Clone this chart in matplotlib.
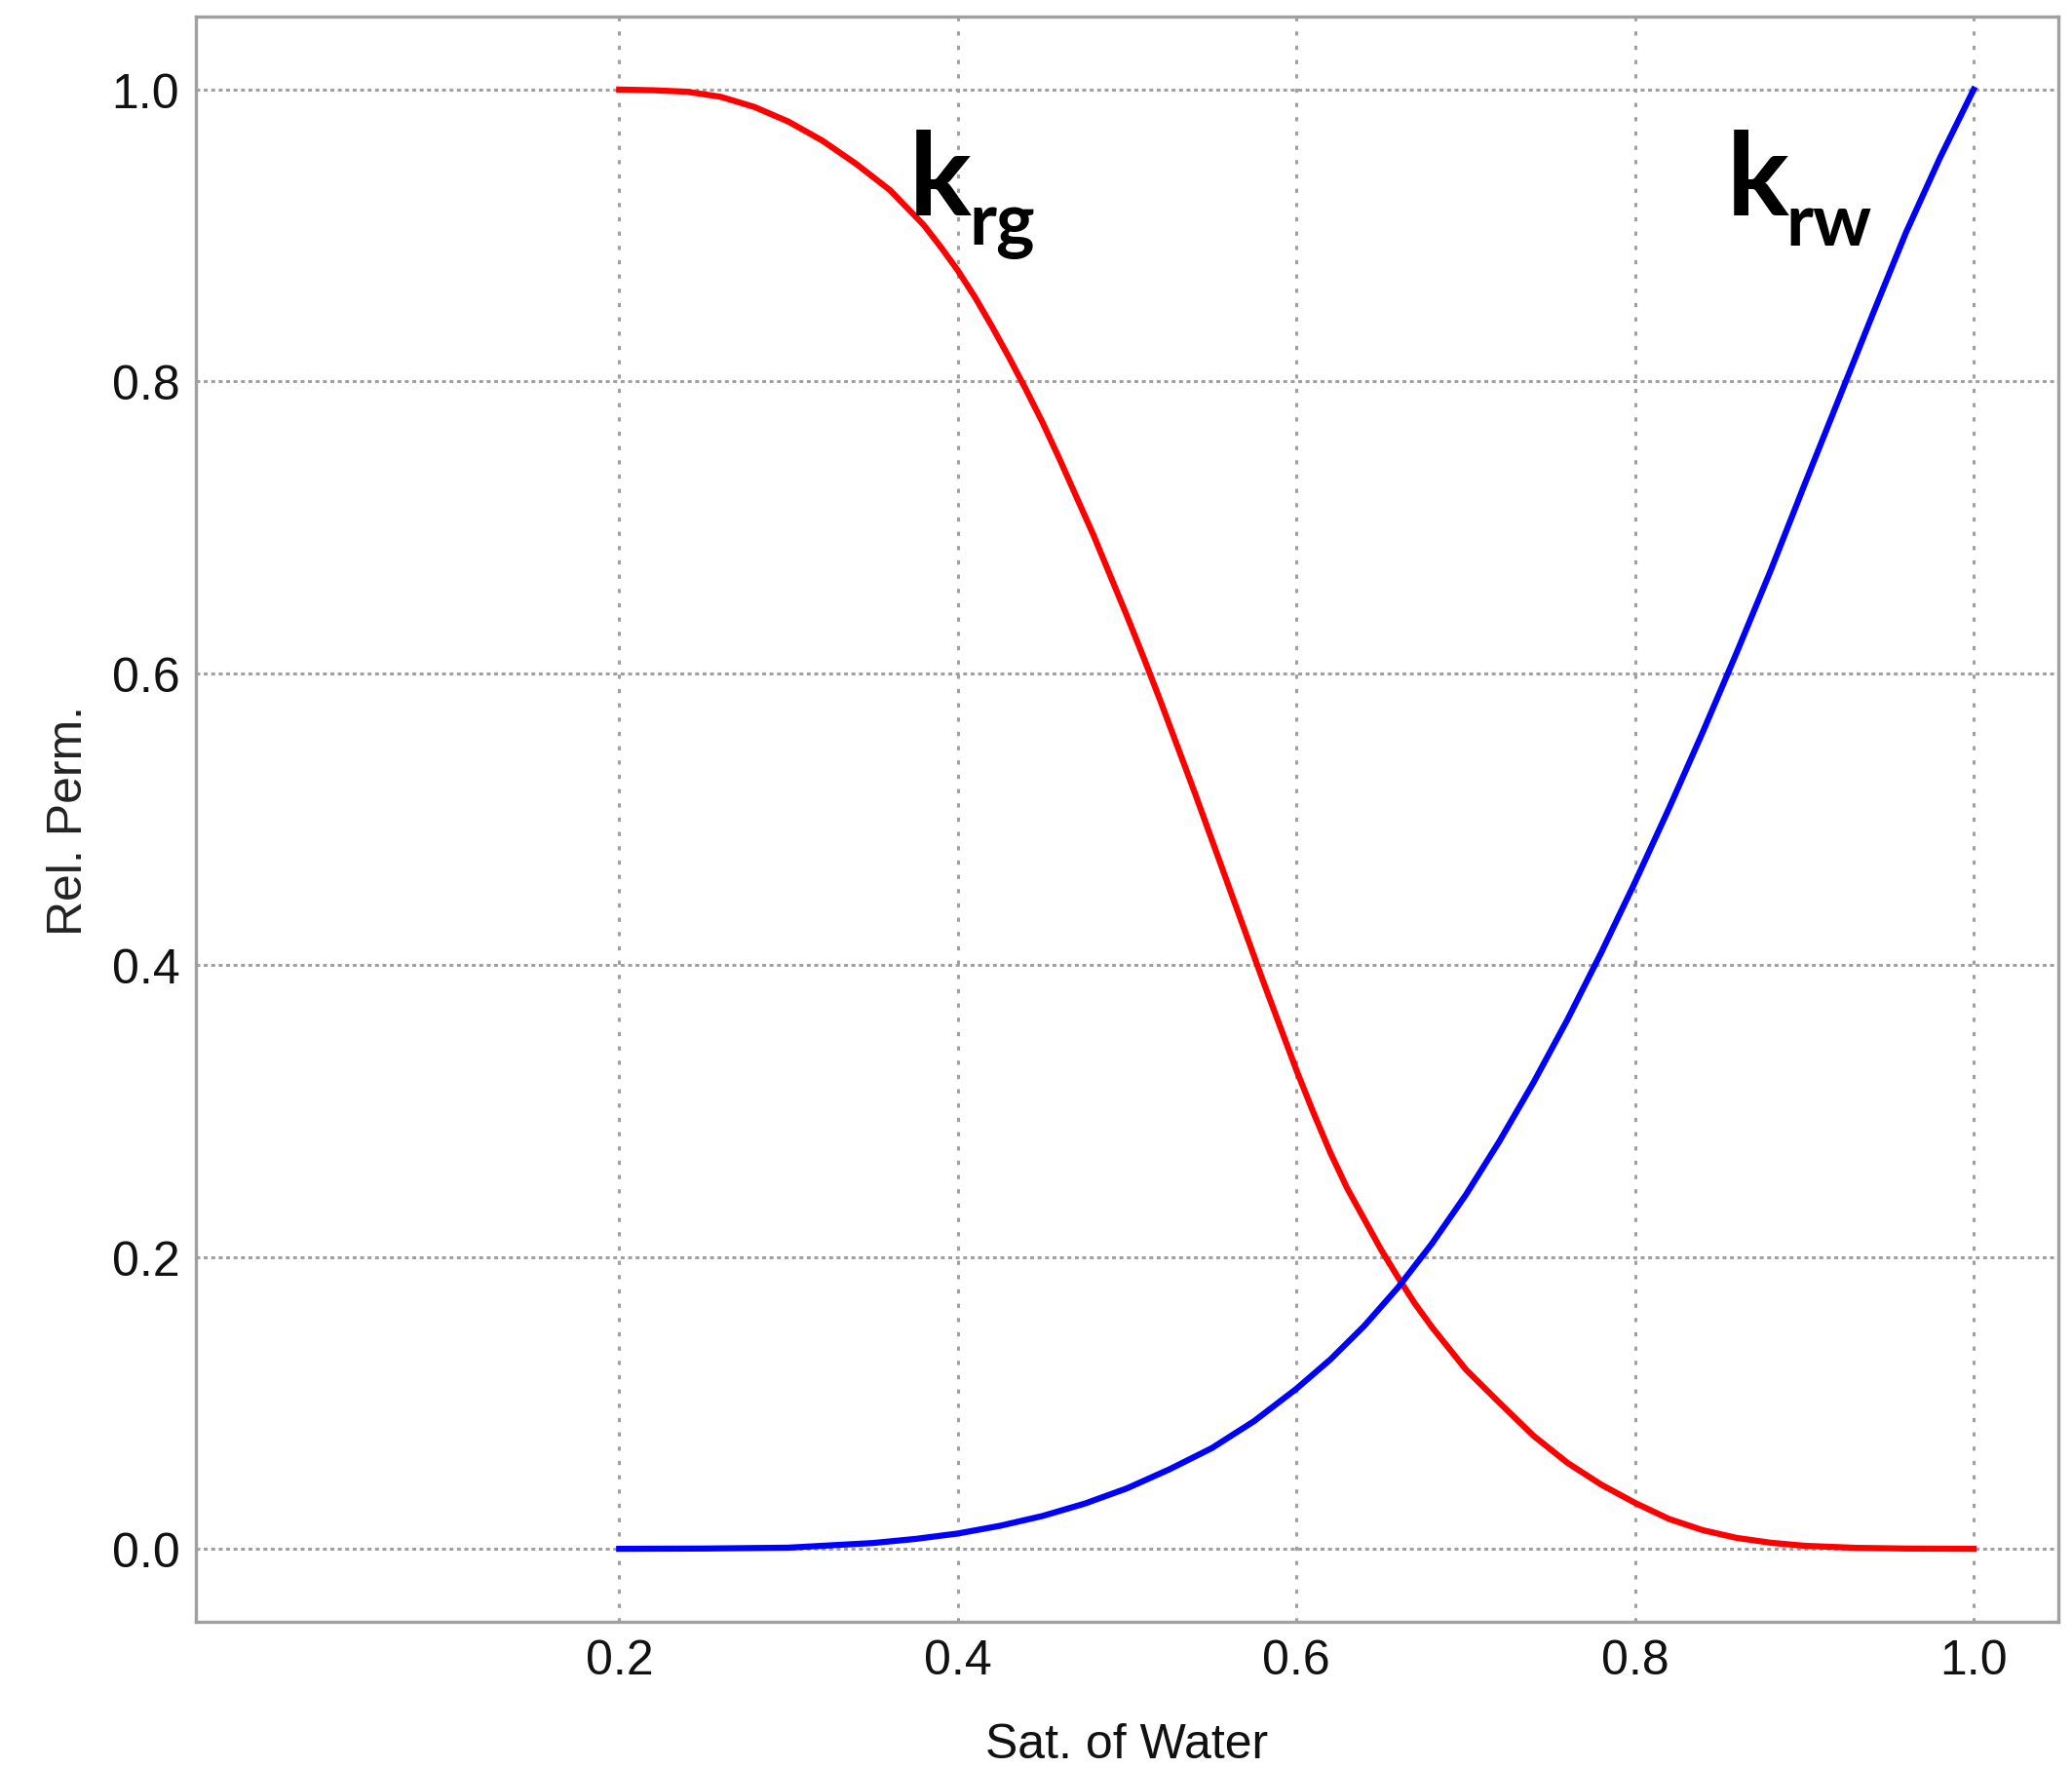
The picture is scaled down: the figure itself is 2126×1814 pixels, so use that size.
import matplotlib
matplotlib.use('Agg')
import matplotlib.pyplot as plt

plt.rcParams['font.family'] = ['Liberation Sans', 'DejaVu Sans']

# gas relative permeability (red)
sw_gas = [0.20, 0.22, 0.24, 0.26, 0.28, 0.30, 0.32, 0.34, 0.36, 0.37,
          0.38, 0.39, 0.40, 0.41, 0.42, 0.43, 0.44, 0.45, 0.46, 0.47,
          0.48, 0.49, 0.50, 0.51, 0.52, 0.53, 0.54, 0.55, 0.56, 0.57,
          0.58, 0.59, 0.60, 0.61, 0.62, 0.63, 0.64, 0.65, 0.66, 0.67,
          0.68, 0.70, 0.72, 0.74, 0.76, 0.78, 0.80, 0.82, 0.84, 0.86,
          0.88, 0.90, 0.93, 0.96, 1.00]
krg = [1.0, 0.9995, 0.9985, 0.995, 0.988, 0.978, 0.965, 0.949, 0.931, 0.919,
       0.907, 0.892, 0.876, 0.858, 0.838, 0.817, 0.795, 0.772, 0.747, 0.721,
       0.695, 0.667, 0.639, 0.610, 0.580, 0.549, 0.518, 0.486, 0.454, 0.422,
       0.390, 0.359, 0.328, 0.299, 0.2715, 0.247, 0.226, 0.205, 0.186, 0.168,
       0.152, 0.123, 0.100, 0.0775, 0.059, 0.044, 0.0315, 0.0205, 0.0128, 0.0075,
       0.0042, 0.0021, 0.0007, 0.0002, 0.0]

# water relative permeability (blue)
sw_water = [0.20, 0.25, 0.30, 0.35, 0.375, 0.40, 0.425, 0.45, 0.475, 0.50,
            0.525, 0.55, 0.575, 0.60, 0.62, 0.64, 0.66, 0.68, 0.70, 0.72,
            0.74, 0.76, 0.78, 0.80, 0.82, 0.84, 0.86, 0.88, 0.90, 0.92,
            0.94, 0.96, 0.98, 1.00]
krw = [0.0, 0.0002, 0.0008, 0.0040, 0.0068, 0.0105, 0.0158, 0.0225, 0.031, 0.0415,
       0.0545, 0.0690, 0.0875, 0.1097, 0.1297, 0.1527, 0.1791, 0.2091, 0.2425, 0.2795,
       0.3195, 0.3625, 0.4085, 0.4569, 0.5073, 0.5597, 0.6141, 0.6701, 0.729, 0.787,
       0.845, 0.902, 0.953, 1.0]

xticks = [0.2, 0.4, 0.6, 0.8, 1.0]
yticks = [0.0, 0.2, 0.4, 0.6, 0.8, 1.0]

W, H = 2126, 1815
fig = plt.figure(figsize=(W / 100, H / 100), dpi=100)
ax = fig.add_axes([201 / W, 1 - 1665 / H, (2112 - 201) / W, (1665 - 18) / H])

ax.plot(sw_gas, krg, color='#ff0000', lw=4.5, zorder=3)
ax.plot(sw_water, krw, color='#0000ff', lw=4.5, zorder=3)

ax.set_xlim(-0.05, 1.05)
ax.set_ylim(-0.05, 1.05)
ax.set_xticks(xticks)
ax.set_xticklabels(['%.1f' % t for t in xticks])
ax.set_yticks(yticks)
ax.set_yticklabels(['%.1f' % t for t in yticks])
ax.tick_params(length=0, pad=12, labelsize=36, labelcolor='#111111')

ax.set_axisbelow(True)
ax.grid(axis='y', color='#a0a0a0', lw=2.2, linestyle=(0, (1.3, 1.2)))
ax.grid(axis='x', color='#a0a0a0', lw=2.2, linestyle=(0, (1.4, 3.4)))
for s in ax.spines.values():
    s.set_color('#a0a0a0')
    s.set_linewidth(2.4)

ax.set_xlabel('Sat. of Water', fontsize=36, labelpad=29, color='#111111')
ax.set_ylabel('Rel. Perm.', fontsize=36, labelpad=15, color='#222222')

lbl = dict(family=['Lato', 'DejaVu Sans'], fontweight='bold', va='baseline', ha='left', color='black')
ax.text(0.371, 0.9143, 'k', fontsize=86, **lbl)
ax.text(0.4065, 0.8942, 'rg', fontsize=54, **lbl)
ax.text(0.854, 0.9143, 'k', fontsize=86, **lbl)
ax.text(0.889, 0.8939, 'rw', fontsize=54, **lbl)

fig.savefig('out.png', dpi=100)
